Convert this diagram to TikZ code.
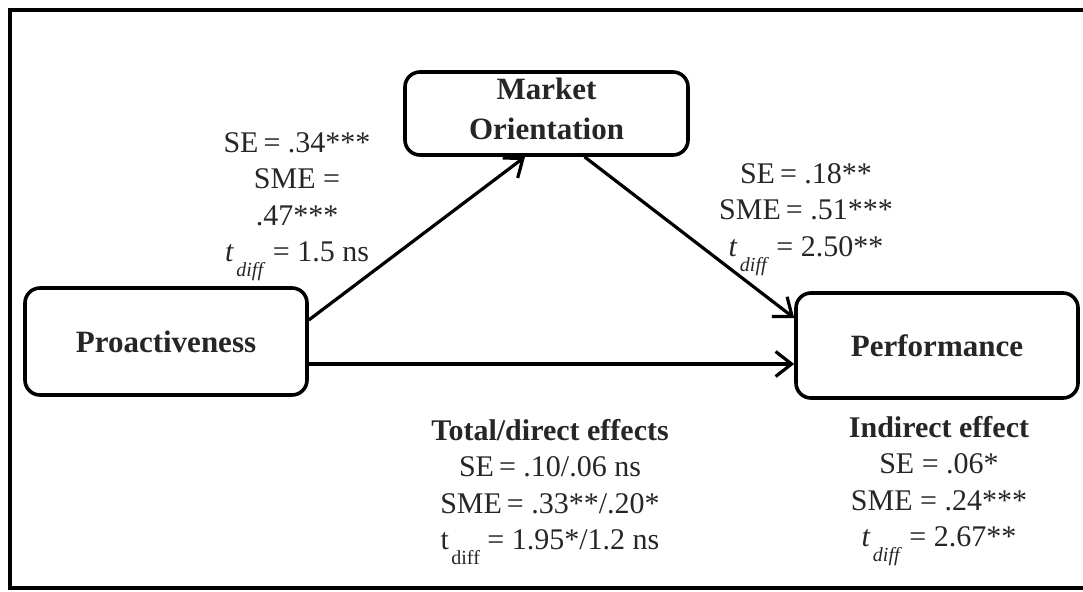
\documentclass[tikz,border=0pt]{standalone}
\usepackage{fontspec}
\setmainfont{Liberation Serif}
\usetikzlibrary{arrows.meta}

% t with a lowered "diff" subscript, italic and upright variants
\newcommand\tdiffit{\textit{t}\hspace{0.08em}\raisebox{-0.5em}{\fontsize{20}{20}\selectfont\textit{diff}}}
\newcommand\tdiffup{t\hspace{0.08em}\raisebox{-0.5em}{\fontsize{20}{20}\selectfont diff}}

\tikzset{
  construct/.style={draw, line width=3.6pt, rounded corners=15pt, fill=white,
    align=center, inner sep=0pt, text=black!85,
    font=\fontsize{31}{40}\selectfont\bfseries},
  path/.style={line width=3.2pt, -{Straight Barb[length=16pt,width=25pt,line width=3.2pt]}},
  stats/.style={align=center, inner sep=0pt, anchor=north, text=black!85,
    font=\fontsize{30}{36.5}\selectfont},
}

\begin{document}
\begin{tikzpicture}[x=1pt, y=-1pt]
  \useasboundingbox (0,0) rectangle (1083,591);

  % outer frame (open on the right)
  \draw[line width=3.8pt] (1083,10) -- (10,10) -- (10,588) -- (1083,588);
  \draw[line width=3pt] (1073,318) -- (1073,368);

  % constructs
  \node[construct, minimum width=283pt, minimum height=83pt, text depth=10pt] (mo) at (546.5,113.5) {Market\\Orientation};
  \node[construct, minimum width=282pt, minimum height=107pt] (pro) at (166,341.5) {Proactiveness};
  \node[construct, minimum width=282pt, minimum height=105pt] (perf) at (937,345.5) {Performance};

  % paths
  \draw[path] ([yshift=21.5pt]pro.east) -- ([xshift=-21.5pt]mo.south);
  \draw[path] ([xshift=38pt]mo.south) -- ([yshift=27.5pt]perf.west);
  \draw[path] ([yshift=-22.5pt]pro.east) -- ([yshift=-18.5pt]perf.west);

  % path coefficients
  \node[stats] (a) at (297,132) {SE\,= .34***\\SME =\\.47***\\\tdiffit{} = 1.5 ns};
  \node[stats] (b) at (806,163) {SE\,= .18**\\SME\,= .51***\\\tdiffit{} = 2.50**};
  \node[stats] (c) at (550,419) {\textbf{Total/direct effects}\\SE\,= .10/.06 ns\\SME\,= .33**/.20*\\\tdiffup{} = 1.95*/1.2 ns};
  \node[stats] (d) at (939,416) {\textbf{Indirect effect}\\SE = .06*\\SME = .24***\\\tdiffit{} = 2.67**};
\end{tikzpicture}
\end{document}
